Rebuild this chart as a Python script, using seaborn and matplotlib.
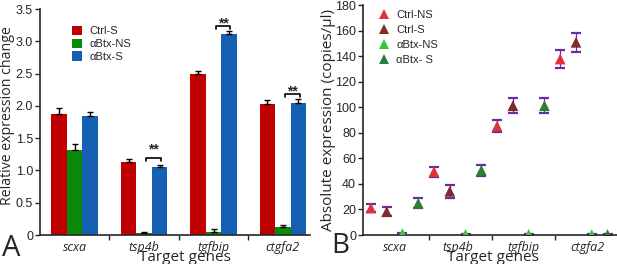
import numpy as np
import pandas as pd
import matplotlib.pyplot as plt
import seaborn as sns
from matplotlib.ticker import FuncFormatter, FixedLocator

# Dados
genes = ['scxa', 'tsp4b', 'tgfbip', 'ctgfa2']

# Painel A: expressão relativa
grupos_a = ['Ctrl-S', 'αBtx-NS', 'αBtx-S']
ctrl_s_a = [1.87, 1.13, 2.49, 2.03]
ctrl_s_a_err = [0.10, 0.05, 0.05, 0.06]
btx_ns_a = [1.31, 0.03, 0.04, 0.12]
btx_ns_a_err = [0.10, 0.01, 0.05, 0.03]
btx_s_a = [1.85, 1.05, 3.11, 2.05]
btx_s_a_err = [0.06, 0.04, 0.05, 0.06]

# colchetes de significância (gene, altura do colchete, altura das estrelas)
sig_genes = [1, 2, 3]
sig_bracket = [1.19, 3.24, 2.18]
sig_stars = [1.33, 3.27, 2.22]

# Painel B: expressão absoluta (cópias/µl)
grupos_b = ['Ctrl-NS', 'Ctrl-S', 'αBtx-NS', 'αBtx- S']
ctrl_ns_b = [21.1, 49.6, 85.3, 137.7]
ctrl_ns_b_err = [3.2, 3.9, 4.7, 7.1]
ctrl_s_b = [18.3, 34.2, 101.2, 150.8]
ctrl_s_b_err = [3.3, 4.9, 5.8, 7.5]
btx_ns_b = [1.0, 0.5, 0.5, 0.3]
btx_ns_b_err = [0.5, 0.5, 0.5, 0.5]
btx_s_b = [24.8, 50.6, 101.2, 0.3]
btx_s_b_err = [3.9, 4.2, 5.8, 0.5]

cores_a = ['#C00000', '#0A8A0A', '#1560B2']
cores_b = ['#E0323C', '#7E2A2E', '#3CC43C', '#2E7D34']
roxo = '#6A2C9E'

sns.set_style('ticks')
plt.rcParams['font.family'] = ['Liberation Sans', 'DejaVu Sans']
plt.rcParams['axes.linewidth'] = 1.2
humanist = ['Open Sans', 'DejaVu Sans']

fig = plt.figure(figsize=(6.17, 2.64), dpi=100)
ax1 = fig.add_axes([40 / 617, 29 / 264, 270 / 617, 226 / 264])
ax2 = fig.add_axes([363 / 617, 29 / 264, 254 / 617, 230 / 264])

# ---------- Painel A ----------
df_a = pd.DataFrame({
    'gene': genes * 3,
    'grupo': np.repeat(grupos_a, 4),
    'valor': ctrl_s_a + btx_ns_a + btx_s_a,
})
erros_a = [ctrl_s_a_err, btx_ns_a_err, btx_s_a_err]

sns.barplot(data=df_a, x='gene', y='valor', hue='grupo', order=genes,
            hue_order=grupos_a, palette=cores_a, width=0.67, errorbar=None,
            linewidth=0, saturation=1, ax=ax1)

for cont, err in zip(ax1.containers, erros_a):
    xs = [b.get_x() + b.get_width() / 2 for b in cont]
    ys = [b.get_height() for b in cont]
    ax1.errorbar(xs, ys, yerr=[np.zeros(len(err)), err], fmt='none',
                 ecolor='black', elinewidth=1, capsize=2.2, capthick=1, zorder=3)

for g, yb, ys in zip(sig_genes, sig_bracket, sig_stars):
    x0, x1 = g + 0.03, g + 0.24
    ax1.plot([x0, x0, x1, x1], [yb - 0.05, yb, yb, yb - 0.05], color='black', lw=1.2)
    ax1.text((x0 + x1) / 2, ys, '**', ha='center', va='center', fontsize=10,
             fontweight='bold')

ax1.set_xlim(-0.5, 3.39)
ax1.set_ylim(0, 3.5)
ax1.set_yticks(np.arange(0, 3.51, 0.5))
ax1.yaxis.set_major_formatter(FuncFormatter(lambda v, p: '0' if v == 0 else f'{v:.1f}'))
ax1.xaxis.set_minor_locator(FixedLocator([0.5, 1.5, 2.5]))
ax1.tick_params(axis='x', which='major', length=0, pad=4)
ax1.tick_params(axis='x', which='minor', length=3.5, width=1, direction='out')
ax1.tick_params(axis='y', length=3.5, width=1, labelsize=9, pad=1.5)
for t in ax1.get_xticklabels():
    t.set_fontstyle('italic')
    t.set_family(humanist)
    t.set_fontsize(9)
ax1.set_ylabel('Relative expression change', fontsize=10.2, family=humanist)
ax1.yaxis.set_label_coords(-0.094, 0.53)
ax1.set_xlabel('Target genes', fontsize=11, family=humanist)
ax1.xaxis.set_label_coords(0.537, -0.066)
sns.despine(ax=ax1)

h, l = ax1.get_legend_handles_labels()
ax1.legend(h, l, loc='upper left', bbox_to_anchor=(0.118, 0.925), frameon=False,
           fontsize=8, handlelength=0.9, handleheight=0.9, handletextpad=0.7,
           labelspacing=0.2, borderpad=0, borderaxespad=0)

# ---------- Painel B ----------
valores_b = [ctrl_ns_b, ctrl_s_b, btx_ns_b, btx_s_b]
erros_b = [ctrl_ns_b_err, ctrl_s_b_err, btx_ns_b_err, btx_s_b_err]
linhas = []
for c, (grupo, vals, errs) in enumerate(zip(grupos_b, valores_b, erros_b)):
    for g in range(len(genes)):
        linhas.append({'pos': g * 4 + c, 'grupo': grupo, 'valor': vals[g], 'erro': errs[g]})
df_b = pd.DataFrame(linhas)

ax2.errorbar(df_b['pos'], df_b['valor'], yerr=df_b['erro'], fmt='none',
             ecolor=roxo, elinewidth=0.9, capsize=3.8, capthick=1.6, zorder=2)
sns.scatterplot(data=df_b, x='pos', y='valor', hue='grupo', hue_order=grupos_b,
                palette=cores_b, marker='^', s=60, linewidth=0, zorder=3, ax=ax2)

ax2.set_xlim(-0.5, 15.6)
ax2.set_ylim(0, 180)
ax2.set_yticks(np.arange(0, 181, 20))
ax2.set_xticks([1.5, 5.5, 9.7, 13.7])
ax2.set_xticklabels(genes, fontstyle='italic', fontsize=9, family=humanist)
ax2.xaxis.set_minor_locator(FixedLocator([3.7, 7.7, 11.7]))
ax2.tick_params(axis='x', which='major', length=0, pad=4)
ax2.tick_params(axis='x', which='minor', length=3.5, width=1, direction='out')
ax2.tick_params(axis='y', length=3.5, width=1, labelsize=9, pad=1.5)
ax2.set_ylabel('Absolute expression (copies/μl)', fontsize=11, family=humanist)
ax2.yaxis.set_label_coords(-0.108, 0.5)
ax2.set_xlabel('Target genes', fontsize=11, family=humanist)
ax2.xaxis.set_label_coords(0.51, -0.066)
sns.despine(ax=ax2)

h, l = ax2.get_legend_handles_labels()
ax2.legend(h, l, loc='upper left', bbox_to_anchor=(0.04, 0.98), frameon=False,
           fontsize=8, handletextpad=0.1, labelspacing=0.45, borderpad=0,
           borderaxespad=0, markerscale=1.0)

# letras dos painéis
fig.text(2 / 617, 1 / 264, 'A', fontsize=21, family=humanist, ha='left', va='bottom')
fig.text(331 / 617, 4 / 264, 'B', fontsize=20, family=humanist, ha='left', va='bottom')

fig.savefig('out.png', dpi=100)
